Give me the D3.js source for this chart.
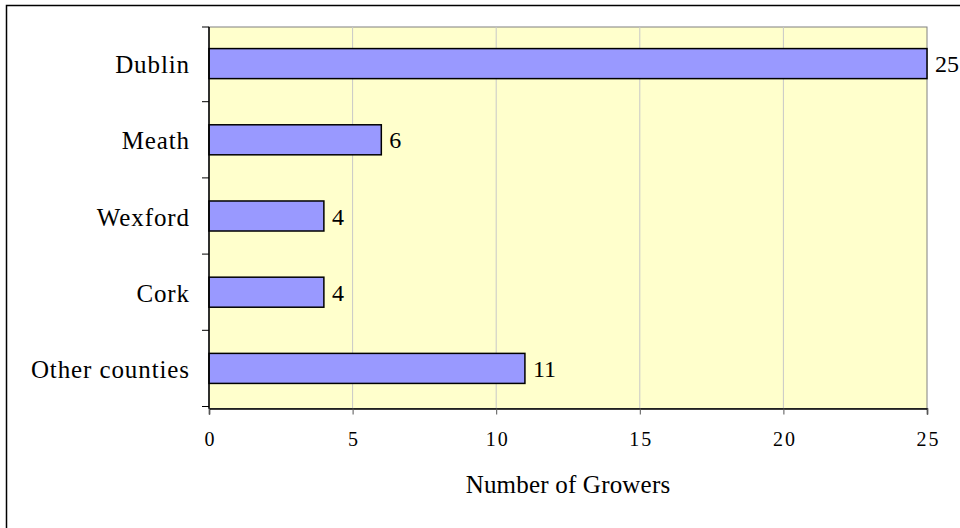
<!DOCTYPE html>
<html>
<head>
<meta charset="utf-8">
<script src="https://cdn.jsdelivr.net/npm/d3@7"></script>
<style>
  html, body { margin: 0; padding: 0; background: #fff; }
  svg { display: block; font-family: "Liberation Serif", "Times New Roman", serif; }
</style>
</head>
<body>
<svg id="chart" width="960" height="528"></svg>
<script>
const categories = ["Dublin", "Meath", "Wexford", "Cork", "Other counties"];
const growers = [25, 6, 4, 4, 11];
const xTicks = [0, 5, 10, 15, 20, 25];
const xTitle = "Number of Growers";

const svg = d3.select("#chart");
const plot = { left: 209, right: 927, top: 27, bottom: 408.5 };

// outer frame (extends past bottom/right edges)
svg.append("rect")
  .attr("x", 6.5).attr("y", 5.5)
  .attr("width", 960).attr("height", 530)
  .attr("fill", "#fff").attr("stroke", "#000").attr("stroke-width", 1.5);

const x = d3.scaleLinear().domain([0, 25]).range([plot.left, plot.right]);
const y = d3.scaleBand().domain(categories)
  .range([plot.top - 1.5, plot.bottom - 2])
  .paddingInner(0.606).paddingOuter(0.303);

// plot background
svg.append("rect")
  .attr("x", plot.left).attr("y", plot.top)
  .attr("width", plot.right - plot.left).attr("height", plot.bottom - plot.top)
  .attr("fill", "#FFFFCC").attr("stroke", "#808080").attr("stroke-width", 1);

// gridlines
svg.append("g").selectAll("line")
  .data(xTicks.filter(t => t > 0 && t < 25))
  .join("line")
  .attr("x1", d => x(d)).attr("x2", d => x(d))
  .attr("y1", plot.top).attr("y2", plot.bottom)
  .attr("stroke", "#C8C8C8").attr("stroke-width", 1);

// bars
svg.append("g").selectAll("rect")
  .data(categories)
  .join("rect")
  .attr("x", x(0))
  .attr("y", d => y(d))
  .attr("width", (d, i) => x(growers[i]) - x(0))
  .attr("height", y.bandwidth())
  .attr("fill", "#9999FF")
  .attr("stroke", "#000").attr("stroke-width", 1.5);

// data labels
svg.append("g").selectAll("text")
  .data(categories)
  .join("text")
  .attr("x", (d, i) => x(growers[i]) + 8)
  .attr("y", d => y(d) + y.bandwidth() / 2)
  .attr("dy", "0.36em")
  .attr("font-size", 24)
  .attr("fill", "#000")
  .text((d, i) => growers[i]);

// x axis
const xAxis = d3.axisBottom(x).tickValues(xTicks).tickSize(6).tickPadding(17);
const gx = svg.append("g")
  .attr("transform", `translate(0,${plot.bottom})`)
  .call(xAxis);
gx.attr("font-family", null).attr("font-size", null);
gx.select(".domain").attr("stroke", "#000").attr("stroke-width", 1.5);
gx.selectAll(".tick line").attr("stroke", "#555");
gx.selectAll(".tick text")
  .attr("font-family", "Liberation Serif, Times New Roman, serif")
  .attr("font-size", 20).attr("fill", "#000")
  .attr("letter-spacing", 2).attr("dx", 1);

// y axis: line with ticks at category boundaries
const step = y.step();
const start = y(categories[0]) - y.paddingOuter() * step;
const boundaries = d3.range(categories.length + 1).map(i => i === 0 ? plot.top : Math.min(start + i * step, plot.bottom));
svg.append("line")
  .attr("x1", plot.left).attr("x2", plot.left)
  .attr("y1", plot.top).attr("y2", plot.bottom)
  .attr("stroke", "#000").attr("stroke-width", 1.5);
svg.append("g").selectAll("line")
  .data(boundaries)
  .join("line")
  .attr("x1", plot.left - 7).attr("x2", plot.left)
  .attr("y1", d => d).attr("y2", d => d)
  .attr("stroke", "#000").attr("stroke-width", 1);

// category labels
svg.append("g").selectAll("text")
  .data(categories)
  .join("text")
  .attr("x", 190)
  .attr("y", d => y(d) + y.bandwidth() / 2)
  .attr("dy", "0.38em")
  .attr("text-anchor", "end")
  .attr("font-size", 25)
  .attr("letter-spacing", 0.9)
  .attr("fill", "#000")
  .text(d => d);

// axis title
svg.append("text")
  .attr("x", (plot.left + plot.right) / 2)
  .attr("y", 493)
  .attr("text-anchor", "middle")
  .attr("font-size", 25)
  .attr("letter-spacing", 0.2)
  .attr("fill", "#000")
  .text(xTitle);
</script>
</body>
</html>
